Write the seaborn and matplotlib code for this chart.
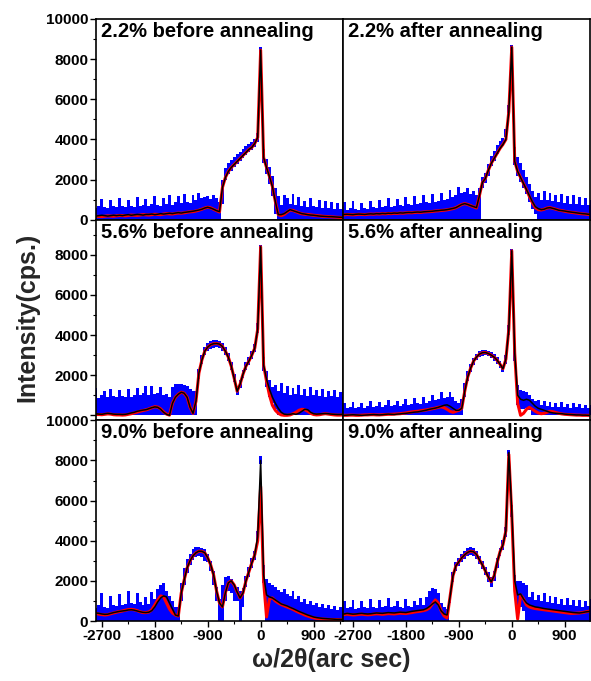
import numpy as np
import matplotlib
matplotlib.use("Agg")
import matplotlib.pyplot as plt
from matplotlib.ticker import MultipleLocator
import seaborn as sns

# omega/2theta grid (arc sec), 50 arcsec step
theta = np.arange(-2900, 1401, 50)

# ---- 2.2% before annealing ----
meas_22b = [200, 200, 180, 200, 220, 200, 180, 200, 220, 200,
            220, 200, 230, 250, 220, 240, 260, 250, 230, 260,
            260, 280, 250, 270, 300, 280, 300, 320, 300, 330,
            350, 330, 360, 380, 400, 420, 450, 480, 520, 580,
            620, 580, 520, 450, 400, 1600, 2100, 2400, 2600, 2750,
            2900, 3050, 3200, 3350, 3500, 3600, 3800, 4100, 8450, 3100,
            2600, 2150, 1650, 900, 250, 250, 300, 400, 500, 450,
            400, 350, 300, 280, 250, 230, 220, 200, 180, 170,
            160, 150, 150, 140, 130, 120, 120]
sim_22b = [150, 160, 170, 160, 150, 170, 190, 180, 170, 190,
           210, 200, 190, 210, 230, 220, 210, 230, 250, 240,
           230, 250, 270, 260, 250, 280, 300, 290, 280, 310,
           330, 320, 340, 370, 390, 400, 430, 470, 520, 580,
           620, 590, 520, 450, 380, 1600, 2100, 2400, 2600, 2750,
           2900, 3050, 3200, 3350, 3500, 3600, 3800, 4100, 8450, 3100,
           2600, 2150, 1650, 900, 250, 200, 260, 380, 480, 460,
           400, 340, 290, 270, 260, 240, 220, 200, 190, 170,
           160, 150, 140, 130, 120, 110, 100]
hi_22b = [650, 1000, 600, 700, 1050, 650, 600, 1000, 700, 650,
          1100, 700, 650, 1000, 700, 650, 1150, 700, 750, 1050,
          700, 800, 1200, 750, 700, 1100, 800, 1250, 750, 900,
          1200, 850, 1300, 900, 850, 1250, 1000, 1350, 1100, 1150,
          1200, 1050, 1250, 1100, 900, 2000, 2550, 2800, 2950, 3100,
          3250, 3350, 3500, 3650, 3750, 3850, 4000, 4300, 8600, 3500,
          3000, 2600, 2200, 1600, 1200, 750, 1250, 1100, 800, 1300,
          750, 1150, 700, 950, 650, 1100, 700, 650, 1000, 600,
          950, 600, 900, 550, 850, 550, 500]
lo_22b = [0] * 40 + [
          0, 0, 0, 0, 0, 800, 2000, 2300, 2450, 2600,
          2750, 2900, 3050, 3200, 3350, 3450, 3600, 3850, 8000, 2800,
          2300, 1800, 1200, 300, 0, 0, 0, 0, 0, 0] + [0] * 17

# ---- 2.2% after annealing ----
meas_22a = [250, 260, 270, 260, 250, 270, 280, 270, 260, 280,
            290, 280, 300, 290, 310, 300, 320, 310, 330, 320,
            340, 330, 350, 360, 350, 370, 380, 370, 390, 400,
            410, 420, 440, 450, 470, 480, 500, 530, 560, 600,
            680, 760, 800, 760, 700, 650, 600, 1200, 1850, 2050,
            2450, 2800, 3050, 3300, 3550, 3750, 4000, 5400, 8600, 2900,
            2400, 2100, 1800, 1500, 1200, 900, 650, 550, 500, 520,
            580, 600, 560, 520, 470, 450, 430, 400, 380, 360,
            340, 320, 300, 290, 270, 260, 250]
sim_22a = [230, 240, 260, 250, 240, 250, 270, 260, 250, 270,
           280, 270, 290, 280, 300, 290, 310, 300, 320, 310,
           330, 320, 340, 350, 340, 360, 370, 360, 380, 390,
           400, 410, 430, 440, 460, 470, 490, 520, 550, 600,
           680, 760, 800, 760, 700, 640, 580, 1200, 1850, 2050,
           2450, 2800, 3050, 3300, 3550, 3750, 4000, 5400, 8600, 2900,
           2400, 2100, 1800, 1500, 1150, 850, 600, 500, 480, 520,
           580, 600, 560, 520, 480, 450, 420, 390, 370, 350,
           330, 310, 290, 280, 260, 250, 240]
hi_22a = [550, 900, 500, 600, 950, 550, 500, 850, 600, 550,
          950, 650, 600, 1000, 650, 700, 1100, 650, 700, 1050,
          750, 700, 1150, 800, 750, 1200, 800, 850, 1250, 900,
          850, 1300, 900, 950, 1350, 1000, 1050, 1500, 1150, 1250,
          1650, 1350, 1400, 1600, 1300, 1450, 1250, 1600, 2150, 2350,
          2750, 3150, 3400, 3700, 3900, 4050, 4500, 5700, 8700, 3600,
          3100, 2800, 2500, 2150, 1800, 1450, 1150, 1350, 1000, 1450,
          1000, 1350, 950, 1250, 900, 1300, 850, 1200, 800, 1250,
          800, 1150, 750, 1100, 750, 1000, 700]
lo_22a = [0] * 40 + [
          0, 0, 0, 0, 0, 0, 0, 0, 1600, 1850,
          2200, 2650, 2900, 3250, 3450, 3650, 4100, 5300, 8400, 2700,
          2200, 1900, 1600, 1300, 900, 550, 300, 0, 0, 0] + [0] * 17

# ---- 5.6% before annealing ----
meas_56b = [50, 50, 80, 60, 50, 80, 100, 80, 60, 50,
            50, 40, 50, 80, 120, 150, 200, 230, 260, 280,
            330, 380, 420, 400, 300, 150, 50, 0, 600, 900,
            1050, 1150, 1100, 900, 400, 100, 700, 2100, 2750, 3200,
            3400, 3520, 3570, 3580, 3550, 3430, 3200, 2900, 2450, 1850,
            1200, 1550, 2050, 2450, 2700, 3000, 3350, 4300, 8400, 2500,
            1800, 1300, 900, 600, 350, 150, 60, 40, 50, 80,
            50, 100, 200, 300, 280, 150, 80, 60, 70, 80,
            90, 80, 60, 50, 40, 40, 50]
sim_56b = [0, 20, 40, 40, 30, 50, 70, 60, 30, 20,
           20, 10, 20, 50, 80, 120, 160, 200, 240, 270,
           320, 380, 430, 410, 320, 170, 60, 10, 600, 900,
           1050, 1150, 1100, 900, 400, 100, 700, 2100, 2750, 3200,
           3400, 3520, 3570, 3580, 3550, 3430, 3200, 2900, 2450, 1850,
           1200, 1550, 2050, 2450, 2700, 3000, 3350, 4300, 8400, 2500,
           1700, 1000, 500, 250, 100, 20, 0, 0, 20, 80,
           150, 250, 300, 280, 200, 100, 40, 20, 30, 60,
           80, 60, 40, 20, 10, 10, 20]
hi_56b = [1300, 900, 1350, 850, 1000, 1200, 900, 1300, 950, 900,
          1250, 950, 900, 1300, 900, 1000, 1350, 1000, 1100, 1450,
          1000, 1450, 1050, 1100, 1400, 1000, 1050, 900, 1400, 1550,
          1550, 1550, 1500, 1450, 1300, 1200, 1200, 2300, 3000, 3400,
          3600, 3700, 3750, 3760, 3720, 3620, 3400, 3100, 2650, 2050,
          1450, 1750, 2250, 2650, 2900, 3200, 3550, 4600, 8500, 2900,
          2200, 1750, 1400, 1500, 1200, 1600, 1100, 1450, 1000, 1350,
          1050, 1500, 1000, 1300, 950, 1400, 1000, 1250, 950, 1300,
          900, 1200, 950, 1250, 900, 1150, 900]
lo_56b = [0] * 30 + [
          0, 0, 0, 0, 0, 0, 0, 1800, 2550, 3000,
          3200, 3320, 3370, 3380, 3350, 3230, 3000, 2700, 2250, 1650,
          1000, 1350, 1850, 2250, 2500, 2800, 3150, 4100, 8200, 2200,
          1400, 900, 600, 300, 0, 0, 0, 0, 0, 0] + [0] * 17

# ---- 5.6% after annealing ----
meas_56a = [0, 0, 10, 20, 30, 20, 10, 0, 10, 20,
            30, 40, 30, 20, 30, 50, 60, 50, 40, 60,
            70, 90, 100, 120, 140, 160, 170, 200, 230, 260,
            300, 330, 360, 400, 450, 500, 520, 450, 350, 250,
            250, 350, 1200, 1900, 2350, 2700, 2900, 3050, 3120, 3130,
            3080, 3000, 2900, 2750, 2550, 2320, 2800, 4300, 8200, 3100,
            1000, 800, 750, 800, 750, 600, 450, 350, 300, 250,
            200, 150, 120, 100, 90, 80, 60, 50, 40, 30,
            20, 20, 10, 10, 0, 0, 0]
sim_56a = [0, 0, 0, 10, 10, 0, 0, 10, 20, 20,
           30, 30, 20, 20, 30, 40, 50, 50, 60, 70,
           80, 100, 120, 150, 170, 190, 200, 230, 250, 270,
           300, 330, 360, 400, 420, 380, 300, 200, 150, 200,
           250, 350, 1200, 1900, 2350, 2700, 2900, 3050, 3120, 3130,
           3080, 3000, 2900, 2750, 2550, 2320, 2800, 4300, 8200, 3100,
           600, 0, 100, 300, 400, 300, 200, 120, 80, 100,
           150, 200, 180, 140, 100, 70, 50, 40, 30, 20,
           10, 10, 0, 0, 0, 0, 0]
hi_56a = [300, 600, 350, 400, 650, 350, 400, 600, 350, 450,
          700, 400, 450, 650, 400, 500, 750, 450, 500, 700,
          450, 550, 800, 500, 550, 850, 600, 550, 900, 600,
          700, 1000, 750, 800, 1150, 850, 900, 1150, 900, 700,
          600, 800, 1600, 2200, 2550, 2850, 3050, 3200, 3250, 3250,
          3200, 3150, 3050, 2900, 2700, 2500, 3000, 4500, 8300, 3400,
          1500, 1250, 1200, 1150, 1000, 800, 700, 750, 500, 700,
          450, 650, 400, 600, 400, 650, 400, 550, 350, 600,
          400, 550, 350, 500, 350, 500, 300]
lo_56a = [0] * 40 + [
          0, 0, 900, 1700, 2150, 2500, 2750, 2900, 2980, 2990,
          2950, 2850, 2700, 2550, 2350, 2150, 2550, 4000, 8000, 2700,
          500, 300, 300, 350, 250, 0, 0, 0, 0, 0] + [0] * 17

# ---- 9.0% before annealing ----
meas_90b = [400, 420, 400, 380, 350, 330, 340, 380, 420, 450,
            480, 500, 520, 550, 560, 540, 500, 460, 430, 420,
            440, 520, 700, 950, 1150, 1250, 1200, 900, 600, 300,
            250, 1400, 2050, 2650, 3000, 3250, 3400, 3480, 3470, 3400,
            3150, 2800, 2300, 1500, 900, 700, 1400, 1900, 2000, 1800,
            1450, 1150, 1400, 2000, 2450, 2900, 3300, 4200, 8000, 2300,
            1300, 1200, 1150, 1050, 950, 850, 800, 750, 680, 620,
            550, 480, 420, 360, 300, 250, 200, 170, 150, 130,
            120, 110, 100, 90, 80, 80, 80]
sim_90b = [400, 420, 380, 340, 320, 300, 320, 360, 400, 440,
           470, 500, 540, 570, 580, 560, 520, 460, 420, 420,
           450, 560, 800, 1050, 1250, 1200, 900, 600, 400, 300,
           250, 1400, 2050, 2650, 3000, 3250, 3400, 3480, 3470, 3400,
           3150, 2800, 2300, 1500, 900, 700, 1400, 1900, 2000, 1800,
           1450, 1150, 1400, 2000, 2450, 2900, 3300, 4000, 6700, 2000,
           200, 1100, 1150, 1000, 900, 820, 760, 700, 640, 580,
           500, 430, 370, 300, 250, 200, 160, 130, 110, 100,
           90, 80, 80, 70, 70, 60, 60]
hi_90b = [700, 1300, 650, 800, 1400, 700, 650, 1250, 800, 750,
          1350, 800, 850, 1500, 900, 850, 1400, 950, 800, 1200,
          850, 1450, 1100, 1600, 1800, 1900, 1500, 1250, 1000, 700,
          700, 1900, 2650, 3100, 3350, 3600, 3700, 3700, 3650, 3600,
          3350, 3000, 2500, 1700, 1100, 1800, 2200, 2250, 2100, 1800,
          1700, 1500, 1650, 2250, 2700, 3150, 3500, 4500, 8200, 2800,
          2100, 1900, 1800, 1700, 1550, 1450, 1600, 1350, 1250, 1500,
          1100, 1250, 950, 1100, 850, 1000, 800, 900, 700, 850,
          650, 800, 600, 750, 550, 700, 500]
lo_90b = [0] * 30 + [
          0, 1000, 1800, 2400, 2800, 3050, 3200, 3250, 3200, 3000,
          2950, 2500, 1800, 1000, 0, 0, 1000, 1500, 1400, 1000,
          1000, 0, 700, 1700, 2200, 2650, 3050, 4000, 7800, 1900] + [0] * 27

# ---- 9.0% after annealing ----
meas_90a = [350, 350, 380, 360, 340, 350, 370, 380, 360, 350,
            360, 380, 400, 390, 380, 400, 420, 410, 400, 420,
            440, 430, 420, 450, 480, 500, 520, 540, 560, 620,
            720, 850, 950, 800, 500, 350, 300, 1200, 2250, 2750,
            2950, 3150, 3300, 3420, 3480, 3450, 3320, 3050, 2800, 2500,
            2200, 1950, 2250, 2900, 3450, 3800, 4500, 8400, 5500, 2000,
            1300, 1350, 1100, 900, 800, 750, 700, 680, 650, 620,
            600, 580, 560, 540, 520, 500, 480, 460, 440, 420,
            410, 400, 420, 450, 470, 480, 470]
sim_90a = [330, 320, 340, 320, 300, 310, 330, 340, 320, 310,
           320, 340, 360, 350, 330, 350, 370, 360, 350, 370,
           390, 380, 370, 400, 420, 450, 470, 490, 520, 560,
           650, 850, 1050, 900, 500, 250, 150, 1200, 2250, 2750,
           2950, 3150, 3300, 3420, 3480, 3450, 3320, 3050, 2800, 2500,
           2200, 1950, 2250, 2900, 3450, 3800, 4500, 8300, 5300, 1500,
           100, 1300, 1100, 800, 700, 650, 620, 600, 580, 560,
           540, 520, 500, 480, 460, 440, 420, 400, 380, 380,
           390, 400, 420, 450, 480, 500, 500]
hi_90a = [600, 1000, 650, 700, 1050, 600, 650, 1000, 700, 650,
          1100, 700, 650, 1050, 700, 750, 1150, 700, 750, 1000,
          700, 650, 1100, 750, 700, 1000, 800, 1150, 800, 1200,
          1500, 1650, 1600, 1400, 900, 700, 600, 1400, 2450, 2950,
          3150, 3350, 3500, 3620, 3680, 3650, 3500, 3250, 3000, 2700,
          2450, 2200, 2500, 3150, 3650, 4050, 4700, 8500, 5800, 2300,
          2000, 2000, 1900, 1800, 1200, 1450, 1050, 1300, 1000, 1400,
          950, 1250, 900, 1200, 850, 1100, 800, 1150, 800, 1050,
          750, 1050, 700, 1000, 750, 1100, 700]
lo_90a = [0] * 30 + [
          0, 0, 0, 0, 0, 0, 0, 900, 1950, 2500,
          2750, 2950, 3100, 3220, 3280, 3250, 3100, 2850, 2600, 2300,
          1950, 1700, 2000, 2650, 3250, 3550, 4200, 8200, 5200, 1700,
          600, 700, 500, 0, 0, 0, 0, 0, 0, 0] + [0] * 17

panel_titles = ["2.2% before annealing", "2.2% after annealing",
                "5.6% before annealing", "5.6% after annealing",
                "9.0% before annealing", "9.0% after annealing"]
panel_data = [(meas_22b, sim_22b, hi_22b, lo_22b), (meas_22a, sim_22a, hi_22a, lo_22a),
              (meas_56b, sim_56b, hi_56b, lo_56b), (meas_56a, sim_56a, hi_56a, lo_56a),
              (meas_90b, sim_90b, hi_90b, lo_90b), (meas_90a, sim_90a, hi_90a, lo_90a)]
x_ticks = [-2700, -1800, -900, 0, 900]

sns.set_theme(style="ticks")
plt.rcParams["font.family"] = ["Liberation Sans", "DejaVu Sans"]
plt.rcParams["axes.unicode_minus"] = False

fig, axes = plt.subplots(3, 2, figsize=(5.91, 6.81), dpi=100,
                         gridspec_kw=dict(hspace=0, wspace=0))
fig.subplots_adjust(left=0.1624, right=0.9983, top=0.9721, bottom=0.0881)

for k, ax in enumerate(axes.flat):
    row, col = divmod(k, 2)
    meas, sim, hi, lo = panel_data[k]
    # noisy measured data as a blue band
    ax.fill_between(theta, lo, hi, step="mid", color="#0000ff", lw=0)
    # simulation (red) and measured trace (black)
    sns.lineplot(x=theta, y=sim, ax=ax, color="#ff0000", lw=2.2, estimator=None, sort=False)
    sns.lineplot(x=theta, y=meas, ax=ax, color="black", lw=1.1, estimator=None, sort=False)

    ax.set_xlim((-2800, 1400) if col == 0 else (-2870, 1330))
    if row == 1:
        ax.set_ylim(-250, 9750)
        ax.set_yticks([0, 2000, 4000, 6000, 8000])
        ax.set_yticklabels(["", "2000", "4000", "6000", "8000"])
    else:
        ax.set_ylim(0, 10000)
        ax.set_yticks([0, 2000, 4000, 6000, 8000, 10000])
        ax.set_yticklabels(["0", "2000", "4000", "6000", "8000", "10000"])
    ax.set_xticks(x_ticks)
    ax.set_xticklabels([str(t) for t in x_ticks])
    ax.xaxis.set_minor_locator(MultipleLocator(450))
    ax.yaxis.set_minor_locator(MultipleLocator(1000))
    ax.set_xlabel("")
    ax.set_ylabel("")

    ax.tick_params(which="major", direction="out", length=4, width=1, colors="black", pad=1.5)
    ax.tick_params(which="minor", direction="out", length=2, width=0.8, colors="black")
    ax.tick_params(axis="both", labelsize=11)
    if col == 1:
        ax.tick_params(axis="y", which="both", left=False, labelleft=False)
    if row < 2:
        ax.tick_params(axis="x", which="both", bottom=False, labelbottom=False)
    for lab in ax.get_xticklabels() + ax.get_yticklabels():
        lab.set_fontweight("bold")
    for sp in ax.spines.values():
        sp.set_color("black")
        sp.set_linewidth(1.2)

    ax.text(0.02, 0.985, panel_titles[k], transform=ax.transAxes, ha="left", va="top",
            fontsize=14.5, fontweight="bold", color="black")

fig.text(27 / 591, 1 - 317 / 681, "Intensity(cps.)", rotation=90, ha="center", va="center",
         fontsize=18, fontweight="bold")
fig.text(331 / 591, 1 - 660 / 681, "ω/2θ(arc sec)", ha="center", va="center",
         fontsize=18, fontweight="bold")

fig.savefig("out.png", dpi=100)
